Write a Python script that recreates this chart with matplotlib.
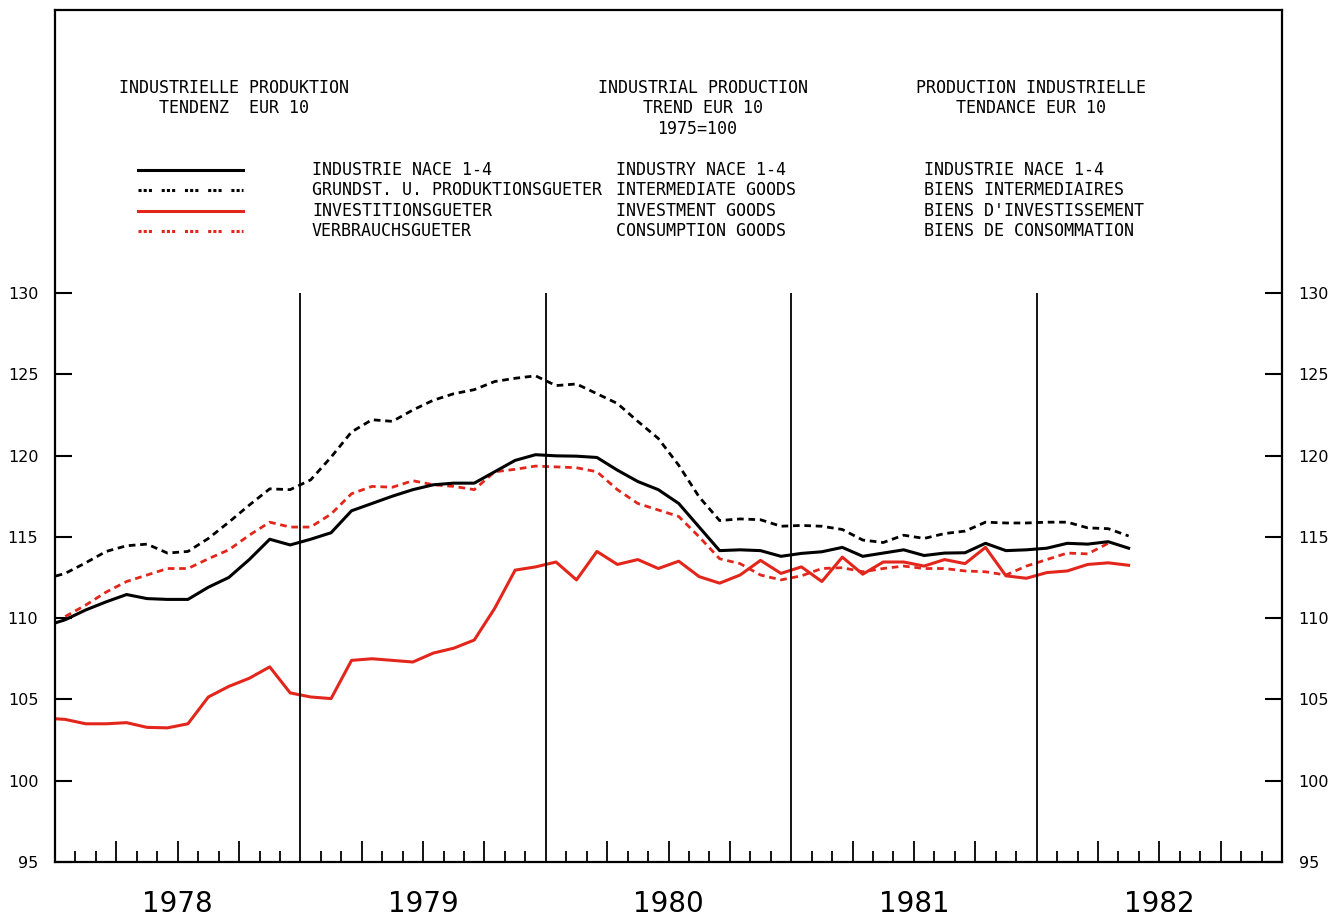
#!/usr/bin/env python3
"""
Industrial production trend EUR 10 (1975=100), monthly 1978-1982
"""

import numpy as np
import matplotlib.pyplot as plt
from matplotlib.lines import Line2D

nan = np.nan

# month index: -1 = Dec 1977, 0 = Jan 1978 ... 52 = May 1982
months = np.arange(-1, 53)

industry = [109.5,
            109.9, 110.5, 111.0, 111.45, 111.2, 111.15, 111.15, 111.9, 112.5, 113.6, 114.85, 114.5,
            114.85, 115.25, 116.6, 117.05, 117.5, 117.9, 118.2, 118.3, 118.3, 119.0, 119.7, 120.05,
            119.98, 119.96, 119.88, 119.1, 118.4, 117.9, 117.05, 115.6, 114.15, 114.2, 114.15, 113.8,
            113.98, 114.08, 114.35, 113.8, 114.0, 114.2, 113.85, 114.0, 114.02, 114.6, 114.15, 114.2,
            114.3, 114.6, 114.55, 114.7, 114.3]

intermediate = [112.4,
                112.75, 113.4, 114.1, 114.45, 114.55, 114.0, 114.1, 114.9, 115.9, 116.95, 117.95, 117.9,
                118.5, 119.9, 121.45, 122.2, 122.1, 122.8, 123.4, 123.8, 124.05, 124.55, 124.75, 124.9,
                124.3, 124.4, 123.8, 123.2, 122.1, 121.05, 119.4, 117.45, 116.0, 116.1, 116.05, 115.65,
                115.7, 115.65, 115.45, 114.8, 114.65, 115.1, 114.9, 115.2, 115.35, 115.9, 115.85, 115.85,
                115.9, 115.9, 115.55, 115.5, 115.05]

investment = [103.85,
              103.77, 103.5, 103.5, 103.57, 103.28, 103.25, 103.5, 105.15, 105.8, 106.3, 107.0, 105.4,
              105.15, 105.05, 107.4, 107.5, 107.4, 107.3, 107.85, 108.15, 108.65, 110.6, 112.95, 113.15,
              113.45, 112.35, 114.1, 113.3, 113.6, 113.05, 113.5, 112.55, 112.15, 112.65, 113.55, 112.75,
              113.15, 112.25, 113.75, 112.7, 113.45, 113.45, 113.2, 113.6, 113.35, 114.35, 112.6, 112.45,
              112.8, 112.9, 113.3, 113.4, 113.25]

consumption = [nan,
               110.1, 110.8, 111.6, 112.25, 112.65, 113.05, 113.05, 113.65, 114.2, 115.1, 115.9, 115.6,
               115.6, 116.4, 117.65, 118.1, 118.05, 118.45, 118.2, 118.1, 117.9, 119.0, 119.15, 119.35,
               119.3, 119.25, 119.0, 117.9, 117.05, 116.65, 116.25, 115.0, 113.65, 113.35, 112.65, 112.35,
               112.6, 113.05, 113.1, 112.85, 113.05, 113.2, 113.05, 113.05, 112.9, 112.85, 112.65, 113.2,
               113.6, 114.0, 113.95, 114.6, nan]

years = ['1978', '1979', '1980', '1981', '1982']
yticks = [95, 100, 105, 110, 115, 120, 125, 130]

RED = '#e3261b'
MONO = 'DejaVu Sans Mono'
DASH = (0, (2.4, 1.7))

fig = plt.figure(figsize=(13.44, 9.19), dpi=100)
ax = fig.add_axes([55 / 1344, 1 - 862 / 919, (1282 - 55) / 1344, (862 - 10) / 919])

x = months + 0.5  # mid-month
ax.plot(x, intermediate, color='black', lw=2.0, linestyle=DASH)
ax.plot(x, consumption, color=RED, lw=2.0, linestyle=DASH)
ax.plot(x, industry, color='black', lw=2.2)
ax.plot(x, investment, color=RED, lw=2.2)

ax.set_xlim(0, 60)
ax.set_ylim(95, 147.4)

# year separators
ax.vlines([12, 24, 36, 48], 95, 130, color='black', lw=1.3)

# y axis: labels both sides, inward ticks
ax.set_yticks(yticks)
ax.tick_params(axis='y', which='both', direction='in', length=12, width=1.5,
               left=True, right=True, labelleft=True, labelright=True,
               labelsize=11.5, pad=12)

# x axis: monthly ticks, taller each quarter, year labels in the middle
ax.set_xticks([m for m in range(3, 60, 3) if m % 12 != 0])
ax.set_xticks([m for m in range(1, 60) if m % 3 != 0], minor=True)
ax.set_xticklabels([years[m // 12] if m % 12 == 6 else '' for m in range(3, 60, 3) if m % 12 != 0])
ax.tick_params(axis='x', which='major', direction='in', length=15, width=1.3,
               labelsize=20, pad=20)
ax.tick_params(axis='x', which='minor', direction='in', length=8, width=1.3)

for s in ax.spines.values():
    s.set_linewidth(1.6)

# header text
def ftext(px, py, s, ha='center'):
    fig.text(px / 1344, 1 - py / 919, s, ha=ha, va='center', family=MONO, fontsize=12)

ftext(234, 88, 'INDUSTRIELLE PRODUKTION')
ftext(234, 108, 'TENDENZ  EUR 10')
ftext(703, 88, 'INDUSTRIAL PRODUCTION')
ftext(703, 108, 'TREND EUR 10')
ftext(697, 129, '1975=100')
ftext(1031, 88, 'PRODUCTION INDUSTRIELLE')
ftext(1031, 108, 'TENDANCE EUR 10')

rows = [
    ('black', '-', 'INDUSTRIE NACE 1-4', 'INDUSTRY NACE 1-4', 'INDUSTRIE NACE 1-4'),
    ('black', '--', 'GRUNDST. U. PRODUKTIONSGUETER', 'INTERMEDIATE GOODS', 'BIENS INTERMEDIAIRES'),
    (RED, '-', 'INVESTITIONSGUETER', 'INVESTMENT GOODS', "BIENS D'INVESTISSEMENT"),
    (RED, '--', 'VERBRAUCHSGUETER', 'CONSUMPTION GOODS', 'BIENS DE CONSOMMATION'),
]
row_y = [170, 190, 211, 231]
for (col, ls, de, en, fr), py in zip(rows, row_y):
    yy = 1 - py / 919
    style = '-' if ls == '-' else (0, (1.0, 0.7, 1.0, 0.7, 1.0, 3.2))
    fig.add_artist(Line2D([138 / 1344, 243 / 1344], [yy, yy], color=col, lw=2.2,
                          linestyle=style, transform=fig.transFigure))
    ftext(312, py, de, ha='left')
    ftext(616, py, en, ha='left')
    ftext(924, py, fr, ha='left')

plt.savefig('out.png', dpi=100)
plt.close()
